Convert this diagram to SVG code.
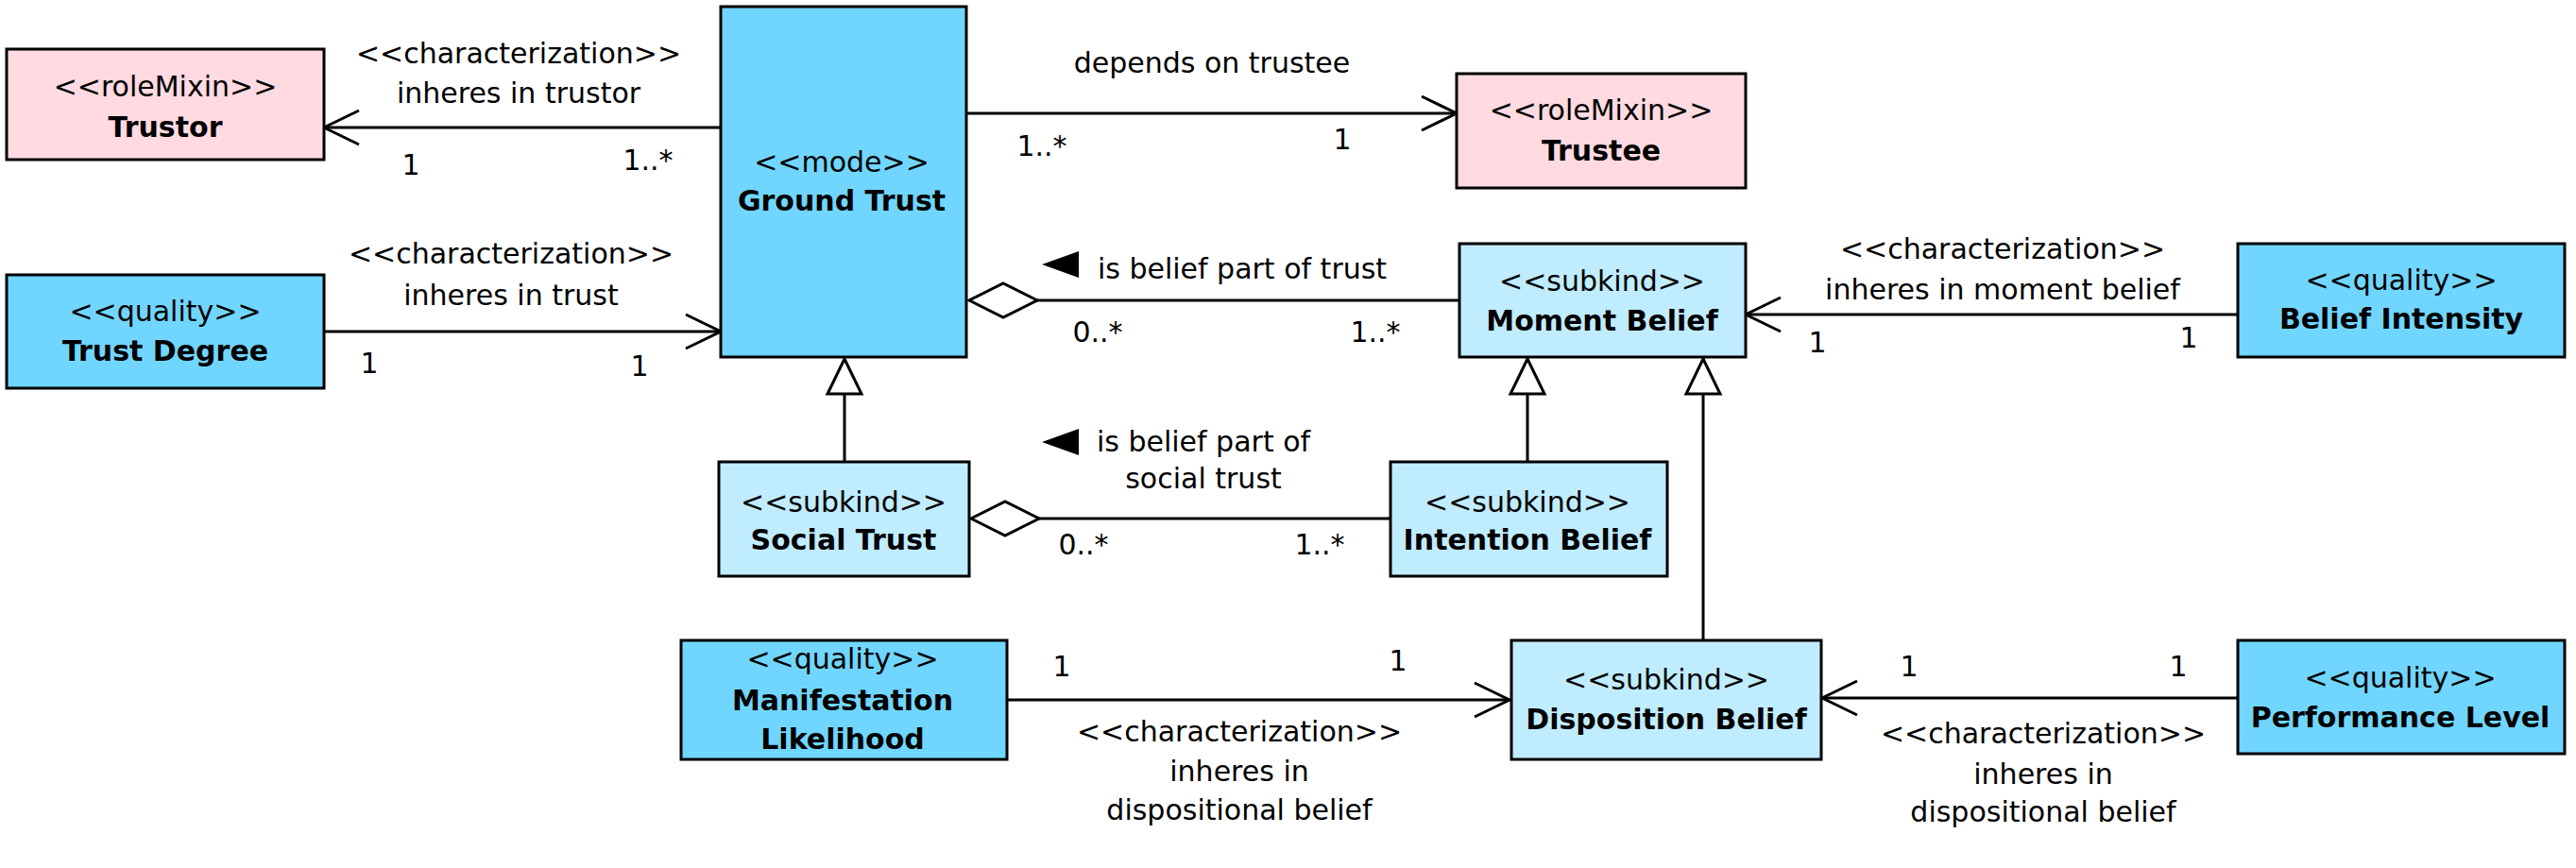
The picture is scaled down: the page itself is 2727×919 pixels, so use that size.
<svg xmlns="http://www.w3.org/2000/svg" width="2727" height="919" viewBox="0 0 2727 919">
<style>
.box{stroke:#000;stroke-width:3}
.pink{fill:#FFDAE0}
.dark{fill:#70D6FF}
.light{fill:#C0ECFF}
text{font-family:"DejaVu Sans","Liberation Sans",sans-serif;font-size:30px;fill:#000;text-anchor:middle}
.b{font-weight:bold}
.ln{stroke:#000;stroke-width:3;fill:none}
</style>
<defs>
<marker id="open" markerUnits="userSpaceOnUse" viewBox="-40 -22 44 44" refX="0" refY="0" markerWidth="44" markerHeight="44" orient="auto">
<path d="M-37,-18 L0,0 L-37,18" fill="none" stroke="#000" stroke-width="3"/>
</marker>
<marker id="gen" markerUnits="userSpaceOnUse" viewBox="-42 -22 46 44" refX="0" refY="0" markerWidth="46" markerHeight="44" orient="auto">
<path d="M0,0 L-37,-18 L-37,18 Z" fill="#fff" stroke="#000" stroke-width="3"/>
</marker>
<marker id="dia" markerUnits="userSpaceOnUse" viewBox="-76 -22 80 44" refX="0" refY="0" markerWidth="80" markerHeight="44" orient="auto">
<path d="M0,0 L-36,-18 L-72,0 L-36,18 Z" fill="#fff" stroke="#000" stroke-width="3"/>
</marker>
</defs>
<rect width="2727" height="919" fill="#fff"/>
<g id="connectors">
<g id="c-trustor">
<line class="ln" x1="763" y1="135" x2="343" y2="135" marker-end="url(#open)"/>
<text x="549" y="67">&lt;&lt;characterization&gt;&gt;</text>
<text x="549" y="109">inheres in trustor</text>
<text x="435" y="185">1</text>
<text x="686" y="180">1..*</text>
</g>
<g id="c-trustdegree">
<line class="ln" x1="343" y1="351" x2="763" y2="351" marker-end="url(#open)"/>
<text x="541" y="279">&lt;&lt;characterization&gt;&gt;</text>
<text x="541" y="323">inheres in trust</text>
<text x="391" y="395">1</text>
<text x="677" y="398">1</text>
</g>
<g id="c-trustee">
<line class="ln" x1="1023" y1="120" x2="1542" y2="120" marker-end="url(#open)"/>
<text x="1283" y="77">depends on trustee</text>
<text x="1103" y="165">1..*</text>
<text x="1421" y="158">1</text>
</g>
<g id="c-beliefpart">
<line class="ln" x1="1545" y1="318" x2="1026" y2="318" marker-end="url(#dia)"/>
<path d="M1103,280 L1142,266 L1142,294 Z" fill="#000"/>
<text x="1315" y="295">is belief part of trust</text>
<text x="1162" y="362">0..*</text>
<text x="1456" y="362">1..*</text>
</g>
<g id="c-beliefintensity">
<line class="ln" x1="2369" y1="333" x2="1848" y2="333" marker-end="url(#open)"/>
<text x="2120" y="274">&lt;&lt;characterization&gt;&gt;</text>
<text x="2120" y="317">inheres in moment belief</text>
<text x="1924" y="373">1</text>
<text x="2317" y="368">1</text>
</g>
<g id="c-gen-social">
<line class="ln" x1="894" y1="489" x2="894" y2="380" marker-end="url(#gen)"/>
</g>
<g id="c-gen-intention">
<line class="ln" x1="1617" y1="489" x2="1617" y2="380" marker-end="url(#gen)"/>
</g>
<g id="c-gen-disposition">
<line class="ln" x1="1803" y1="678" x2="1803" y2="380" marker-end="url(#gen)"/>
</g>
<g id="c-socialpart">
<line class="ln" x1="1472" y1="549" x2="1028" y2="549" marker-end="url(#dia)"/>
<path d="M1103,468 L1142,454 L1142,482 Z" fill="#000"/>
<text x="1274" y="478">is belief part of</text>
<text x="1274" y="517">social trust</text>
<text x="1147" y="587">0..*</text>
<text x="1397" y="587">1..*</text>
</g>
<g id="c-manifestation">
<line class="ln" x1="1066" y1="741" x2="1598" y2="741" marker-end="url(#open)"/>
<text x="1312" y="785">&lt;&lt;characterization&gt;&gt;</text>
<text x="1312" y="827">inheres in</text>
<text x="1312" y="868">dispositional belief</text>
<text x="1124" y="716">1</text>
<text x="1480" y="710">1</text>
</g>
<g id="c-performance">
<line class="ln" x1="2369" y1="739" x2="1929" y2="739" marker-end="url(#open)"/>
<text x="2163" y="787">&lt;&lt;characterization&gt;&gt;</text>
<text x="2163" y="830">inheres in</text>
<text x="2163" y="870">dispositional belief</text>
<text x="2021" y="716">1</text>
<text x="2306" y="716">1</text>
</g>
</g>
<g id="trustor">
<rect class="box pink" x="7" y="52" width="336" height="117"/>
<text x="175" y="102">&lt;&lt;roleMixin&gt;&gt;</text>
<text class="b" x="175" y="145">Trustor</text>
</g>
<g id="trust-degree">
<rect class="box dark" x="7" y="291" width="336" height="120"/>
<text x="175" y="340">&lt;&lt;quality&gt;&gt;</text>
<text class="b" x="175" y="382">Trust Degree</text>
</g>
<g id="ground-trust">
<rect class="box dark" x="763" y="7" width="260" height="371"/>
<text x="891" y="182">&lt;&lt;mode&gt;&gt;</text>
<text class="b" x="891" y="223">Ground Trust</text>
</g>
<g id="trustee">
<rect class="box pink" x="1542" y="78" width="306" height="121"/>
<text x="1695" y="127">&lt;&lt;roleMixin&gt;&gt;</text>
<text class="b" x="1695" y="170">Trustee</text>
</g>
<g id="moment-belief">
<rect class="box light" x="1545" y="258" width="303" height="120"/>
<text x="1696" y="308">&lt;&lt;subkind&gt;&gt;</text>
<text class="b" x="1696" y="350">Moment Belief</text>
</g>
<g id="belief-intensity">
<rect class="box dark" x="2369" y="258" width="346" height="120"/>
<text x="2542" y="307">&lt;&lt;quality&gt;&gt;</text>
<text class="b" x="2542" y="348">Belief Intensity</text>
</g>
<g id="social-trust">
<rect class="box light" x="761" y="489" width="265" height="121"/>
<text x="893" y="542">&lt;&lt;subkind&gt;&gt;</text>
<text class="b" x="893" y="582">Social Trust</text>
</g>
<g id="intention-belief">
<rect class="box light" x="1472" y="489" width="293" height="121"/>
<text x="1617" y="542">&lt;&lt;subkind&gt;&gt;</text>
<text class="b" x="1617" y="582">Intention Belief</text>
</g>
<g id="manifestation-likelihood">
<rect class="box dark" x="721" y="678" width="345" height="126"/>
<text x="892" y="708">&lt;&lt;quality&gt;&gt;</text>
<text class="b" x="892" y="752">Manifestation</text>
<text class="b" x="892" y="793">Likelihood</text>
</g>
<g id="disposition-belief">
<rect class="box light" x="1600" y="678" width="328" height="126"/>
<text x="1764" y="730">&lt;&lt;subkind&gt;&gt;</text>
<text class="b" x="1764" y="772">Disposition Belief</text>
</g>
<g id="performance-level">
<rect class="box dark" x="2369" y="678" width="346" height="120"/>
<text x="2541" y="728">&lt;&lt;quality&gt;&gt;</text>
<text class="b" x="2541" y="770">Performance Level</text>
</g>
</svg>
